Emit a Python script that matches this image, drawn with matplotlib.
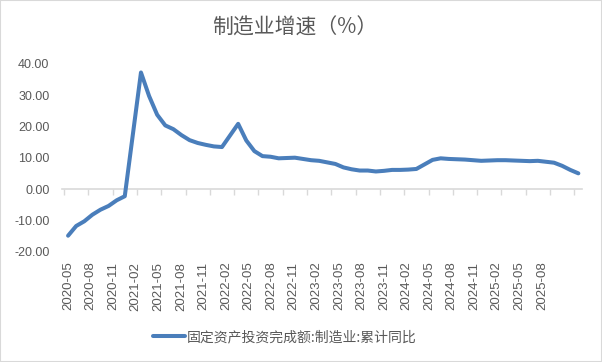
import numpy as np
import matplotlib
matplotlib.use("Agg")
import matplotlib.pyplot as plt
from matplotlib.patches import Rectangle

plt.rcParams['font.family'] = ['Liberation Sans', 'Noto Sans CJK SC', 'DejaVu Sans']

# ---- data -------------------------------------------------------------
dates = ['2020-05', '2020-06', '2020-07', '2020-08', '2020-09', '2020-10', '2020-11', '2020-12',
         '2021-02', '2021-03', '2021-04', '2021-05', '2021-06', '2021-07', '2021-08', '2021-09',
         '2021-10', '2021-11', '2021-12',
         '2022-02', '2022-03', '2022-04', '2022-05', '2022-06', '2022-07', '2022-08', '2022-09',
         '2022-10', '2022-11', '2022-12',
         '2023-02', '2023-03', '2023-04', '2023-05', '2023-06', '2023-07', '2023-08', '2023-09',
         '2023-10', '2023-11', '2023-12',
         '2024-02', '2024-03', '2024-04', '2024-05', '2024-06', '2024-07', '2024-08', '2024-09',
         '2024-10', '2024-11', '2024-12',
         '2025-02', '2025-03', '2025-04', '2025-05', '2025-06', '2025-07', '2025-08']
values = [-14.8, -11.7, -10.2, -8.1, -6.5, -5.3, -3.5, -2.2,
          37.3, 29.8, 23.8, 20.4, 19.2, 17.3, 15.7, 14.8, 14.2, 13.7, 13.5,
          20.9, 15.6, 12.2, 10.6, 10.4, 9.9, 10.0, 10.1, 9.7, 9.3, 9.1,
          8.1, 7.0, 6.4, 6.0, 6.0, 5.7, 5.9, 6.2, 6.2, 6.3, 6.5,
          9.4, 9.9, 9.7, 9.6, 9.5, 9.3, 9.1, 9.2, 9.3, 9.3, 9.2,
          9.0, 9.1, 8.8, 8.5, 7.5, 6.2, 5.1]
tick_labels = ['2020-05', '2020-08', '2020-11', '2021-02', '2021-05', '2021-08', '2021-11',
               '2022-02', '2022-05', '2022-08', '2022-11', '2023-02', '2023-05', '2023-08',
               '2023-11', '2024-02', '2024-05', '2024-08', '2024-11', '2025-02', '2025-05',
               '2025-08']
y_ticks = [-20, -10, 0, 10, 20, 30, 40]
series_name = '固定资产投资完成额:制造业:累计同比'
title = '制造业增速（%）'

# ---- helpers ----------------------------------------------------------
def month_index(s, base='2020-05'):
    y, m = map(int, s.split('-'))
    by, bm = map(int, base.split('-'))
    return (y - by) * 12 + (m - bm)

x = np.array([month_index(d) for d in dates])
tick_x = np.array([month_index(t) for t in tick_labels])

grey_txt = '#595959'
axis_col = '#d9d9d9'
line_col = '#4a7ebb'

fig = plt.figure(figsize=(6.02, 3.62), dpi=100)
fig.patches.append(Rectangle((0, 0), 1, 1, transform=fig.transFigure,
                             fill=False, edgecolor=axis_col, linewidth=1.5, zorder=10))

ax = fig.add_axes([62 / 602, 1 - 252 / 362, 520 / 602, 188 / 362])
ax.plot(x, values, color=line_col, linewidth=2.9, solid_joinstyle='round',
        solid_capstyle='round', label=series_name, zorder=3)

ax.set_xlim(-0.75, 63.45)
ax.set_ylim(-20, 40)
ax.set_yticks(y_ticks)
ax.set_yticklabels([f'{v:.2f}' for v in y_ticks], color=grey_txt, fontsize=9)
ax.tick_params(axis='y', length=0, pad=9)

for s in ['top', 'right', 'left']:
    ax.spines[s].set_visible(False)
ax.spines['bottom'].set_position(('data', 0))
ax.spines['bottom'].set_color(axis_col)
ax.spines['bottom'].set_linewidth(1.2)
# tick marks between categories, every 3 months
ax.set_xticks(tick_x - 0.5)
ax.set_xticklabels([])
ax.tick_params(axis='x', direction='out', length=4, width=1.0, color=axis_col)

# category labels at the bottom of the plot area (placement as in reference)
sec = ax.secondary_xaxis(0.0)
sec.spines['bottom'].set_visible(False)
label_x = np.linspace(0, 58.5, len(tick_labels))
sec.set_xticks(label_x)
sec.set_xticklabels(tick_labels, rotation=90, color=grey_txt, fontsize=9.5)
sec.tick_params(axis='x', length=0, pad=7)

fig.text(294.5 / 602, 1 - 28 / 362, title, ha='center', va='center', fontsize=15,
         color=grey_txt, family=['Noto Sans CJK SC', 'DejaVu Sans'])

leg = fig.legend(loc='center', bbox_to_anchor=(285 / 602, 1 - 337 / 362), frameon=False,
                 handlelength=2.3, handletextpad=0.1,
                 prop={'family': ['Noto Sans CJK SC', 'DejaVu Sans'], 'size': 10})
for t in leg.get_texts():
    t.set_color(grey_txt)

fig.savefig('out.png', dpi=100)
